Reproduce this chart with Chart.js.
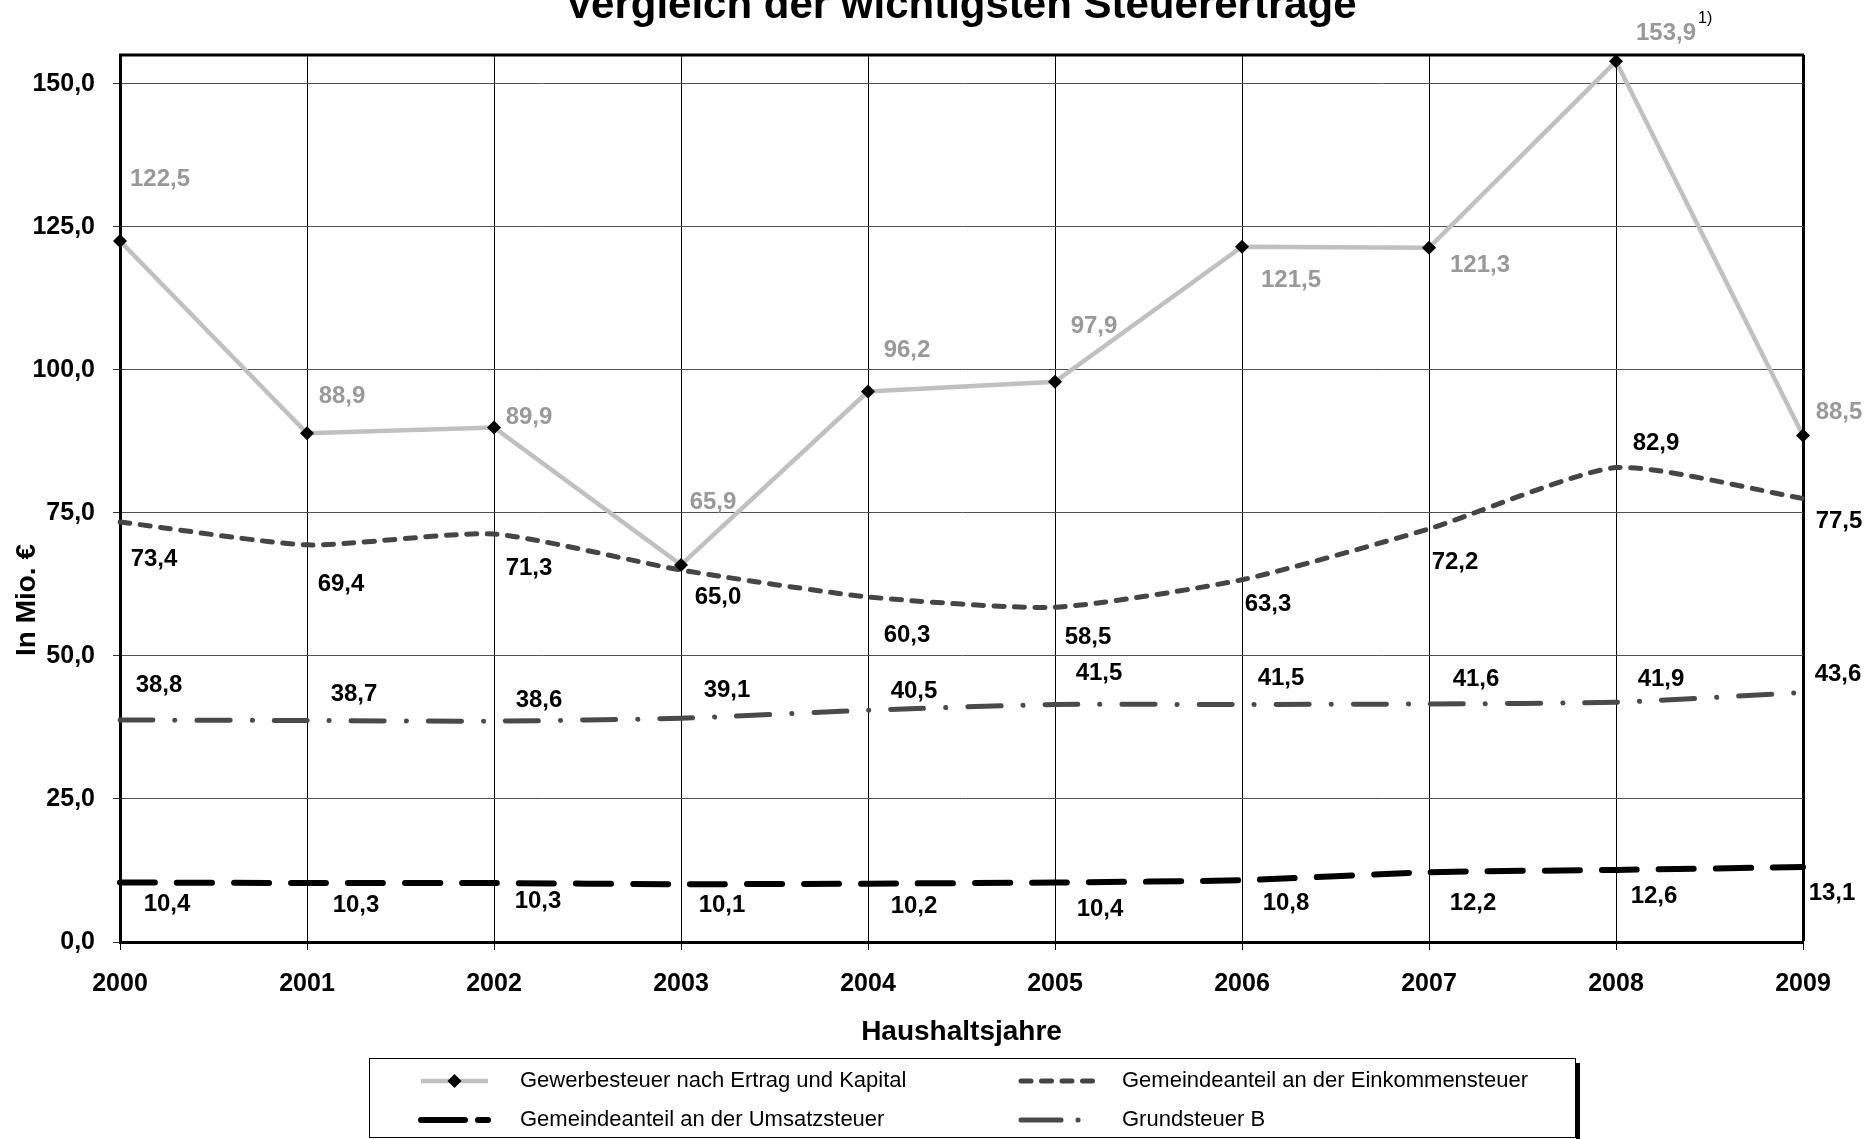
<!DOCTYPE html>
<html lang="de">
<head>
<meta charset="utf-8">
<title>Vergleich der wichtigsten Steuererträge</title>
<script src="https://cdn.jsdelivr.net/npm/chart.js@4.4.1/dist/chart.umd.min.js"></script>
<style>
  html, body { margin: 0; padding: 0; background: #fff; overflow: hidden; }
  canvas { display: block; }
</style>
</head>
<body>
<canvas id="chart" width="1867" height="1139"></canvas>
<script>
/* ========= Daten ========= */
const years = ["2000", "2001", "2002", "2003", "2004", "2005", "2006", "2007", "2008", "2009"];

const gewerbesteuer = [122.5, 88.9, 89.9, 65.9, 96.2, 97.9, 121.5, 121.3, 153.9, 88.5];
const einkommensteuer = [73.4, 69.4, 71.3, 65.0, 60.3, 58.5, 63.3, 72.2, 82.9, 77.5];
const umsatzsteuer = [10.4, 10.3, 10.3, 10.1, 10.2, 10.4, 10.8, 12.2, 12.6, 13.1];
const grundsteuerB = [38.8, 38.7, 38.6, 39.1, 40.5, 41.5, 41.5, 41.6, 41.9, 43.6];

const gewerbeNotes = ["", "", "", "", "", "", "", "", "1)", ""];

const yTicks = [0, 25, 50, 75, 100, 125, 150];

const seriesNames = [
  "Gewerbesteuer nach Ertrag und Kapital",
  "Gemeindeanteil an der Einkommensteuer",
  "Gemeindeanteil an der Umsatzsteuer",
  "Grundsteuer B",
];

/* ====== Label-Verschiebung (px, relativ zum Punkt) ====== */
const gewerbeLabelPos = [[40, -62], [35, -37], [35, -10], [32, -63], [39, -41], [39, -55], [49, 34], [51, 18], [50, -28], [36, -23]];
const einkommenLabelPos = [[34, 37], [34, 40], [35, 34], [37, 27], [39, 38], [33, 30], [26, 25], [26, 34], [40, -24], [36, 23]];
const umsatzLabelPos = [[47, 22], [49, 22], [44, 18], [41, 21], [46, 23], [45, 27], [44, 23], [44, 31], [38, 26], [29, 26]];
const grundLabelPos = [[39, -35], [47, -26], [45, -21], [46, -28], [46, -19], [44, -31], [39, -26], [47, -25], [45, -23], [35, -18]];

/* ========= Helpers ========= */
const FONT = '"Liberation Sans", Arial, Helvetica, sans-serif';
const fmt = (v) => v.toFixed(1).replace(".", ",");

/* ========= Plugins ========= */
const valueLabels = {
  id: "valueLabels",
  afterDatasetsDraw(chart) {
    const ctx = chart.ctx;
    ctx.save();
    ctx.textAlign = "center";
    ctx.textBaseline = "middle";

    chart.data.datasets.forEach((ds, di) => {
      const meta = chart.getDatasetMeta(di);
      meta.data.forEach((pt, i) => {
        const [dx, dy] = ds.labelPos[i];
        const txt = fmt(ds.data[i]);
        const x = pt.x + dx;
        const y = pt.y + dy;
        ctx.font = `bold 24px ${FONT}`;
        ctx.fillStyle = ds.labelColor;
        ctx.fillText(txt, x, y);

        const note = ds.notes && ds.notes[i];
        if (note) {
          const w = ctx.measureText(txt).width;
          ctx.font = `16px ${FONT}`;
          ctx.fillStyle = "#000";
          ctx.textAlign = "left";
          ctx.fillText(note, x + w / 2 + 2, y - 15);
          ctx.textAlign = "center";
        }
      });
    });
    ctx.restore();
  },
};

function drawSample(ctx, ds, x1, x2, y) {
  ctx.save();
  ctx.strokeStyle = ds.borderColor;
  ctx.lineWidth = ds.borderWidth;
  ctx.lineCap = ds.borderCapStyle || "butt";
  ctx.setLineDash(ds.legendDash || ds.borderDash || []);
  ctx.beginPath();
  ctx.moveTo(x1, y);
  ctx.lineTo(x2, y);
  ctx.stroke();

  if (ds.pointRadius > 0) {
    const cx = (x1 + x2) / 2;
    const r = ds.pointRadius;
    ctx.setLineDash([]);
    ctx.fillStyle = ds.pointBackgroundColor;
    ctx.beginPath();
    ctx.moveTo(cx, y - r);
    ctx.lineTo(cx + r, y);
    ctx.lineTo(cx, y + r);
    ctx.lineTo(cx - r, y);
    ctx.closePath();
    ctx.fill();
  }
  ctx.restore();
}

const chrome = {
  id: "chrome",
  afterDraw(chart) {
    const ctx = chart.ctx;
    const { left, right, top } = chart.chartArea;
    ctx.save();

    // Rahmen oben
    ctx.strokeStyle = "#000";
    ctx.lineWidth = 3;
    ctx.beginPath();
    ctx.moveTo(left - 1, top);
    ctx.lineTo(right + 1, top);
    ctx.stroke();

    // Titel (oben angeschnitten)
    ctx.fillStyle = "#000";
    ctx.font = `bold 42px ${FONT}`;
    ctx.textAlign = "center";
    ctx.textBaseline = "alphabetic";
    ctx.fillText("Vergleich der wichtigsten Steuererträge", 961, 18);

    // Achsentitel Y
    ctx.save();
    ctx.translate(27, 600);
    ctx.rotate(-Math.PI / 2);
    ctx.font = `bold 28px ${FONT}`;
    ctx.textBaseline = "middle";
    ctx.fillText("In Mio. €", 0, 0);
    ctx.restore();

    // Legende
    const bx = 369, by = 1058, bw = 1206, bh = 79;
    ctx.fillStyle = "#000";
    ctx.fillRect(bx + bw + 1, by + 5, 4, bh + 10);
    ctx.fillStyle = "#fff";
    ctx.fillRect(bx, by, bw, bh);
    ctx.strokeStyle = "#000";
    ctx.lineWidth = 1;
    ctx.strokeRect(bx + 0.5, by + 0.5, bw, bh);

    const ds = chart.data.datasets;
    const rows = [1081, 1120];
    const cols = [{ s: 421, e: 488, t: 520 }, { s: 1021, e: 1095, t: 1122 }];
    ctx.font = `22px ${FONT}`;
    ctx.textAlign = "left";
    ctx.textBaseline = "middle";
    ds.forEach((d, i) => {
      const c = cols[i % 2];
      const y = rows[Math.floor(i / 2)];
      drawSample(ctx, d, c.s, c.e, y);
      ctx.fillStyle = "#000";
      ctx.fillText(d.label, c.t, y);
    });

    ctx.restore();
  },
};

/* ========= Chart ========= */
const ctx = document.getElementById("chart").getContext("2d");

new Chart(ctx, {
  type: "line",
  data: {
    labels: years,
    datasets: [
      {
        label: seriesNames[0],
        data: gewerbesteuer,
        borderColor: "#c0c0c0",
        borderWidth: 4.5,
        tension: 0,
        pointStyle: "rectRot",
        pointRadius: 7,
        pointBackgroundColor: "#000",
        pointBorderColor: "#000",
        pointBorderWidth: 0,
        labelPos: gewerbeLabelPos,
        labelColor: "#999999",
        notes: gewerbeNotes,
      },
      {
        label: seriesNames[1],
        data: einkommensteuer,
        borderColor: "#454545",
        borderWidth: 5,
        borderDash: [10, 10.5],
        borderCapStyle: "round",
        tension: 0.2,
        pointRadius: 0,
        labelPos: einkommenLabelPos,
        labelColor: "#000",
      },
      {
        label: seriesNames[2],
        data: umsatzsteuer,
        borderColor: "#000",
        borderWidth: 6,
        borderDash: [35, 22],
        legendDash: [44, 13],
        borderCapStyle: "round",
        tension: 0.2,
        pointRadius: 0,
        labelPos: umsatzLabelPos,
        labelColor: "#000",
      },
      {
        label: seriesNames[3],
        data: grundsteuerB,
        borderColor: "#4a4a4a",
        borderWidth: 5,
        borderDash: [33, 22, 0.1, 22],
        legendDash: [40, 17, 0.1, 30],
        borderCapStyle: "round",
        tension: 0.2,
        pointRadius: 0,
        labelPos: grundLabelPos,
        labelColor: "#000",
      },
    ],
  },
  options: {
    responsive: false,
    animation: false,
    layout: { padding: { left: 0, right: 64, top: 55, bottom: 0 } },
    plugins: {
      legend: { display: false },
      title: { display: false },
      tooltip: { enabled: false },
    },
    scales: {
      x: {
        type: "category",
        offset: false,
        afterFit: (scale) => { scale.height = 197; },
        grid: {
          color: "#000",
          lineWidth: (c) => (c.index === years.length - 1 ? 3 : 1),
          tickWidth: 1,
          tickLength: 8,
        },
        border: { display: true, color: "#000", width: 3 },
        ticks: {
          color: "#000",
          font: { family: FONT, size: 25, weight: "bold" },
          padding: 19,
          maxRotation: 0,
          autoSkip: false,
        },
        title: {
          display: true,
          text: "Haushaltsjahre",
          color: "#000",
          font: { family: FONT, size: 28, weight: "bold" },
          padding: { top: 0, bottom: 90 },
        },
      },
      y: {
        min: 0,
        max: 155,
        afterFit: (scale) => { scale.width = 120; },
        afterBuildTicks: (scale) => {
          scale.ticks = yTicks.map((v) => ({ value: v }));
        },
        grid: {
          color: "#505050",
          lineWidth: 1,
          tickColor: "#333",
          tickLength: 7,
        },
        border: { display: true, color: "#000", width: 3 },
        ticks: {
          color: "#000",
          font: { family: FONT, size: 25, weight: "bold" },
          padding: 18,
          callback: (v) => fmt(v),
        },
      },
    },
  },
  plugins: [valueLabels, chrome],
});
</script>
</body>
</html>
